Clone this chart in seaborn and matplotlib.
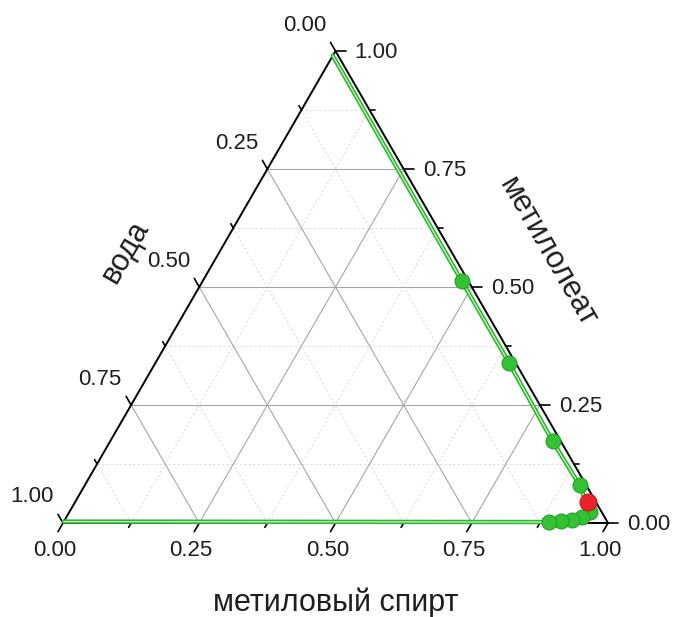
import numpy as np
import pandas as pd
import matplotlib
matplotlib.use("Agg")
import matplotlib.pyplot as plt
import seaborn as sns

sns.set_theme(style="white")
plt.rcParams['font.family'] = ['Liberation Sans', 'DejaVu Sans']

# ---- data (ternary fractions) ----
methanol = [0.476, 0.648, 0.812, 0.908, 0.955, 0.946, 0.931, 0.912, 0.891]
oleate   = [0.512, 0.340, 0.173, 0.080, 0.023, 0.013, 0.006, 0.004, 0.002]
# binodal line: top end, measured points, bottom-left end
line_methanol = [0.0] + methanol + [0.0]
line_oleate = [0.99] + oleate + [0.003]
# red point
red_methanol = [0.941]
red_oleate = [0.044]

tick_values = [0.0, 0.25, 0.5, 0.75, 1.0]
tick_labels = ["0.00", "0.25", "0.50", "0.75", "1.00"]
minor_values = [0.125, 0.375, 0.625, 0.875]
label_bottom = "метиловый спирт"
label_right = "метилолеат"
label_left = "вода"

S3 = np.sqrt(3) / 2


def tern(m, o):
    m = np.asarray(m, dtype=float)
    o = np.asarray(o, dtype=float)
    return m + o / 2, o * S3


PX = 545.0
fig = plt.figure(figsize=(6.74, 6.17), dpi=100)
ax = fig.add_axes([0, 0, 1, 1])

# grid
for vals, col, ls, lw in [(minor_values, '#dedede', (0, (2, 2)), 0.8),
                          (tick_values[1:-1], '#a6a6a6', '-', 0.8)]:
    for v in vals:
        for (m0, o0, m1, o1) in [(v, 0, v, 1 - v), (0, v, 1 - v, v), (1 - v, 0, 0, 1 - v)]:
            x, y = tern([m0, m1], [o0, o1])
            ax.plot(x, y, color=col, ls=ls, lw=lw, zorder=1)

# triangle edges
x, y = tern([0, 1, 0, 0], [0, 0, 1, 0])
ax.plot(x, y, color='black', lw=1.4, zorder=2, solid_joinstyle='miter')

# ticks and labels
tc = '#1e1e1e'
fs = 16
for v in tick_values + minor_values:
    L = (10 if v in tick_values else 5) / PX
    bx, by = tern(v, 0)
    ax.plot([bx, bx - 0.5 * L], [by, by - S3 * L], color='black', lw=1.2, zorder=2)
    rx, ry = tern(1 - v, v)
    ax.plot([rx, rx + L], [ry, ry], color='black', lw=1.2, zorder=2)
    lx, ly = tern(0, 1 - v)
    ax.plot([lx, lx - 0.5 * L], [ly, ly + S3 * L], color='black', lw=1.2, zorder=2)

for v, t in zip(tick_values, tick_labels):
    bx, by = tern(v, 0)
    ax.text(bx - 8 / PX, by - 28 / PX, t, ha='center', va='center', fontsize=fs, color=tc)
    rx, ry = tern(1 - v, v)
    ax.text(rx + 19 / PX, ry - 1 / PX, t, ha='left', va='center', fontsize=fs, color=tc)
    lx, ly = tern(0, 1 - v)
    ax.text(lx - 31 / PX, ly + 26 / PX, t, ha='center', va='center', fontsize=fs, color=tc)

# axis titles
ax.text((336 - 63) / PX, (523 - 603) / PX, label_bottom, ha='center', va='center',
        fontsize=22, color=tc)
ax.text((548 - 63) / PX, (523 - 252) / PX, label_right, ha='center', va='center',
        fontsize=22, color=tc, rotation=-60, rotation_mode='anchor')
ax.text((126 - 63) / PX, (523 - 252) / PX, label_left, ha='center', va='center',
        fontsize=22, color=tc, rotation=60, rotation_mode='anchor')

# binodal line
lx, ly = tern(line_methanol, line_oleate)
line_df = pd.DataFrame({'x': lx, 'y': ly})
sns.lineplot(data=line_df, x='x', y='y', sort=False, estimator=None, ax=ax,
             color='#2fb52f', lw=3.2, zorder=3)
sns.lineplot(data=line_df, x='x', y='y', sort=False, estimator=None, ax=ax,
             color='#c9f3c9', lw=0.9, zorder=3.1)

# points
px_, py_ = tern(methanol, oleate)
pts = pd.DataFrame({'x': px_, 'y': py_})
sns.scatterplot(data=pts, x='x', y='y', ax=ax, s=115, color='#34c234',
                edgecolor='#23a023', linewidth=0.8, zorder=4)
rx_, ry_ = tern(red_methanol, red_oleate)
red = pd.DataFrame({'x': rx_, 'y': ry_})
sns.scatterplot(data=red, x='x', y='y', ax=ax, s=150, color='#e8232a',
                edgecolor='#c81a20', linewidth=0.8, zorder=5)

ax.set_xlim(-63 / PX, (674 - 63) / PX)
ax.set_ylim(-(617 - 523) / PX, 523 / PX)
ax.axis('off')
fig.savefig('out.png', dpi=100)
